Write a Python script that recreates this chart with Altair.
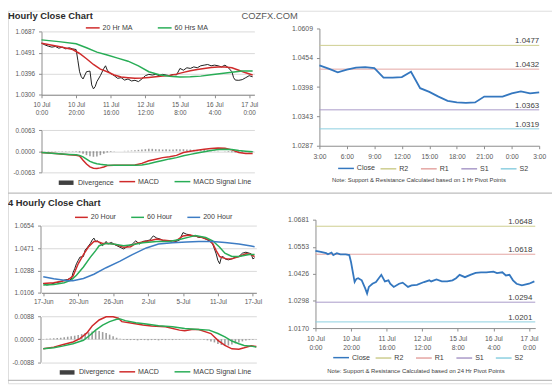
import altair as alt
import pandas as pd

FONT = "Liberation Sans"
W, H = 552, 378

RED = "#cf2a2a"
GREEN = "#28ad56"
BLUE = "#3d7cc4"
BLACK = "#1f1f1f"
CLOSE_BLUE = "#3477bf"
PIVOT_COLORS = ["#cdcd8e", "#e4a5a2", "#a999c8", "#8ccfe0"]

# ---------------- Hourly close chart (top left) ----------------
hr_x_ticks = [0, 20, 40, 60, 80, 100, 120]
hr_x_labels = ["10 Jul|0:00", "10 Jul|20:00", "11 Jul|16:00", "12 Jul|12:00",
               "15 Jul|8:00", "16 Jul|4:00", "17 Jul|0:00"]
hr_y_ticks = [1.0300, 1.0396, 1.0491, 1.0587]
hr_y_labels = ["1.0300", "1.0396", "1.0491", "1.0687"]
hr_close_idx = [0, 2, 4, 6, 8, 10, 12, 14, 16, 18, 20, 21, 22, 23, 24, 26, 28, 29, 30, 31,
                32, 34, 36, 37, 38, 40, 42, 44, 46, 48, 50, 52, 54, 56, 58, 60, 62, 64, 66, 68,
                70, 72, 74, 76, 78, 80, 82, 84, 86, 88, 90, 92, 94, 96, 98, 100, 102, 104, 106, 108,
                110, 111, 112, 114, 116, 118, 120, 122]
hr_close = [1.0535, 1.0527, 1.0521, 1.0517, 1.0520, 1.0512, 1.0517, 1.0509, 1.0514, 1.0509,
            1.0506, 1.0457, 1.0405, 1.0382, 1.0372, 1.0405, 1.0408, 1.0345, 1.0327, 1.0337,
            1.0360, 1.0387, 1.0420, 1.0432, 1.0412, 1.0397, 1.0387, 1.0375, 1.0378, 1.0367,
            1.0372, 1.0363, 1.0366, 1.0360, 1.0372, 1.0387, 1.0393, 1.0390, 1.0393, 1.0387,
            1.0393, 1.0390, 1.0387, 1.0393, 1.0390, 1.0420, 1.0412, 1.0423, 1.0420, 1.0427,
            1.0423, 1.0432, 1.0435, 1.0438, 1.0432, 1.0435, 1.0432, 1.0427, 1.0435, 1.0423,
            1.0405, 1.0378, 1.0367, 1.0366, 1.0369, 1.0378, 1.0387, 1.0382]
hr_ma20_idx = [0, 10, 18, 22, 26, 30, 34, 38, 42, 46, 50, 54, 58, 62, 66, 70, 74, 78, 82, 86,
               90, 94, 98, 102, 106, 110, 114, 118, 122]
hr_ma20 = [1.0535, 1.0520, 1.0506, 1.0488, 1.0464, 1.0438, 1.0417, 1.0405, 1.0390, 1.0381,
           1.0378, 1.0375, 1.0376, 1.0379, 1.0382, 1.0385, 1.0388, 1.0394, 1.0402, 1.0409,
           1.0415, 1.0420, 1.0424, 1.0426, 1.0426, 1.0423, 1.0412, 1.0400, 1.0390]
hr_ma60_idx = [0, 10, 20, 26, 32, 38, 44, 50, 56, 62, 68, 74, 80, 86, 92, 98, 104, 110, 116, 122]
hr_ma60 = [1.0550, 1.0542, 1.0532, 1.0514, 1.0494, 1.0481, 1.0467, 1.0453, 1.0432, 1.0405,
           1.0391, 1.0384, 1.0381, 1.0382, 1.0385, 1.0391, 1.0397, 1.0403, 1.0408, 1.0408]
hr_ma_names = ["20 Hr MA", "60 Hrs MA"]

# ---------------- Hourly MACD ----------------
macd_names = ["MACD", "MACD Signal Line"]
hr_macd_ticks = [-0.0063, 0.0, 0.0063]
hr_macd_labels = ["-0.0063", "0.0000", "0.0063"]
hr_macd_idx = [0, 8, 16, 20, 22, 24, 26, 28, 30, 32, 34, 36, 38, 42, 46, 50, 54, 58, 62, 66,
               70, 74, 78, 82, 86, 90, 94, 98, 102, 106, 110, 114, 118, 122]
hr_macd = [-0.00039, -0.00068, -0.00107, -0.00126, -0.00145, -0.00271, -0.00388, -0.00475, -0.00514, -0.00523,
           -0.00504, -0.00475, -0.00436, -0.00426, -0.00426, -0.00426, -0.00417, -0.00368, -0.00291, -0.00242,
           -0.00194, -0.00165, -0.00126, -0.00039, 0.0, 0.00029, 0.00058, 0.00078, 0.00097, 0.00087,
           0.00039, -0.00039, -0.00068, -0.00068]
hr_signal = [-0.00039, -0.00068, -0.00097, -0.00107, -0.00126, -0.00174, -0.00242, -0.00310, -0.00349, -0.00378,
             -0.00397, -0.00407, -0.00417, -0.00426, -0.00426, -0.00426, -0.00426, -0.00417, -0.00378, -0.00329,
             -0.00281, -0.00233, -0.00194, -0.00136, -0.00097, -0.00058, -0.00019, 0.00019, 0.00048, 0.00058,
             0.00048, 0.00019, 0.0, -0.00019]
hr_div_idx = list(range(0, 123, 2))
hr_div = [-0.0001, -0.0001, -0.0001, -0.0001, -0.0001, -0.0001, -0.0001, -0.0001, -0.0001, -0.0001,
          -0.0002, -0.0004, -0.0008, -0.0012, -0.0015, -0.0017, -0.0016, -0.0012, -0.0008, -0.0004,
          -0.0002, -0.0001, 0.0, 0.0, 0.0001, 0.0001, 0.0002, 0.0003, 0.0004, 0.0005,
          0.0006, 0.0007, 0.0007, 0.0006, 0.0006, 0.0005, 0.0006, 0.0005, 0.0005, 0.0006,
          0.0006, 0.0006, 0.0005, 0.0005, 0.0004, 0.0004, 0.0004, 0.0004, 0.0003, 0.0002,
          0.0002, 0.0001, 0.0, -0.0001, -0.0002, -0.0003, -0.0004, -0.0004, -0.0004, -0.0003,
          -0.0003, -0.0002]

# ---------------- Hourly pivots (top right) ----------------
pivot_names = ["R2", "R1", "S1", "S2"]
pv1_x_ticks = [0, 3, 6, 9, 12, 15, 18, 21, 24]
pv1_x_labels = ["3:00", "6:00", "9:00", "12:00", "15:00", "18:00", "21:00", "0:00", "3:00"]
pv1_y_ticks = [1.0287, 1.03425, 1.0398, 1.04535, 1.0509]
pv1_y_labels = ["1.0287", "1.0343", "1.0398", "1.0454", "1.0609"]
pv1_hours = list(range(0, 25))
pv1_close = [1.0439, 1.0433, 1.0426, 1.0431, 1.0435, 1.0436, 1.0434, 1.0416, 1.0416, 1.0417,
             1.0427, 1.0396, 1.0389, 1.0380, 1.0372, 1.0369, 1.0368, 1.0369, 1.0380, 1.0380,
             1.0380, 1.0386, 1.0390, 1.0386, 1.0388]
pv1_levels = [1.0477, 1.0432, 1.0355, 1.0319]
pv1_level_labels = ["1.0477", "1.0432", "1.0363", "1.0319"]
pv1_note = "Note: Support & Resistance Calculated based on 1 Hr Pivot Points"

# ---------------- 4 Hourly close chart (bottom left) ----------------
fh_x_ticks = [0, 20, 40, 60, 80, 100, 120]
fh_x_labels = ["17-Jun", "20-Jun", "26-Jun", "2-Jul", "5-Jul", "11-Jul", "17-Jul"]
fh_y_ticks = [1.0106, 1.0288, 1.0471, 1.0654]
fh_y_labels = ["1.0106", "1.0288", "1.0471", "1.0654"]
fh_close_idx = [0, 2, 4, 7, 10, 12, 14, 15, 16, 17, 18, 19, 20, 21, 23, 24, 25, 27, 28, 29,
                30, 31, 32, 34, 36, 37, 39, 41, 44, 46, 48, 49, 51, 53, 55, 57, 59, 61, 63, 65,
                67, 69, 72, 74, 76, 78, 80, 82, 84, 85, 87, 89, 91, 93, 95, 97, 98, 99, 100, 101,
                102, 103, 104, 106, 108, 110, 112, 114, 116, 118, 119, 120, 121]
fh_close = [1.0183, 1.0170, 1.0175, 1.0189, 1.0197, 1.0210, 1.0215, 1.0223, 1.0210, 1.0269,
            1.0303, 1.0343, 1.0370, 1.0397, 1.0402, 1.0456, 1.0471, 1.0509, 1.0536, 1.0552,
            1.0525, 1.0530, 1.0517, 1.0490, 1.0525, 1.0504, 1.0517, 1.0498, 1.0477, 1.0464,
            1.0482, 1.0490, 1.0504, 1.0530, 1.0504, 1.0525, 1.0530, 1.0536, 1.0570, 1.0552,
            1.0544, 1.0530, 1.0525, 1.0517, 1.0525, 1.0536, 1.0597, 1.0584, 1.0578, 1.0570,
            1.0570, 1.0557, 1.0557, 1.0544, 1.0530, 1.0504, 1.0464, 1.0424, 1.0370, 1.0343,
            1.0397, 1.0402, 1.0383, 1.0375, 1.0383, 1.0397, 1.0402, 1.0429, 1.0437, 1.0429,
            1.0424, 1.0383, 1.0392]
fh_ma20_idx = [0, 6, 14, 17, 20, 23, 26, 29, 31, 34, 38, 42, 46, 50, 53, 57, 61, 65, 68, 72,
               76, 80, 84, 87, 91, 95, 97, 99, 101, 103, 105, 108, 112, 116, 119, 121]
fh_ma20 = [1.0183, 1.0189, 1.0210, 1.0242, 1.0343, 1.0418, 1.0482, 1.0525, 1.0525, 1.0509,
           1.0509, 1.0498, 1.0477, 1.0482, 1.0509, 1.0520, 1.0530, 1.0544, 1.0536, 1.0530,
           1.0530, 1.0570, 1.0578, 1.0568, 1.0557, 1.0536, 1.0509, 1.0450, 1.0402, 1.0391,
           1.0383, 1.0383, 1.0402, 1.0424, 1.0418, 1.0402]
fh_ma60_idx = [0, 6, 12, 16, 19, 23, 27, 30, 32, 36, 40, 46, 51, 57, 65, 72, 78, 84, 87, 93,
               97, 101, 104, 108, 112, 118, 121]
fh_ma60 = [1.0170, 1.0175, 1.0189, 1.0210, 1.0250, 1.0317, 1.0397, 1.0450, 1.0490, 1.0509,
           1.0504, 1.0490, 1.0498, 1.0514, 1.0525, 1.0525, 1.0541, 1.0562, 1.0573, 1.0557,
           1.0530, 1.0477, 1.0429, 1.0402, 1.0402, 1.0418, 1.0418]
fh_ma200_idx = [0, 6, 14, 17, 23, 29, 36, 44, 51, 59, 66, 74, 82, 89, 97, 104, 112, 119, 121]
fh_ma200 = [1.0237, 1.0221, 1.0205, 1.0205, 1.0223, 1.0258, 1.0311, 1.0365, 1.0418, 1.0472,
            1.0504, 1.0514, 1.0520, 1.0525, 1.0525, 1.0517, 1.0504, 1.0488, 1.0482]
fh_ma_names = ["20 Hour", "60 Hour", "200 Hour"]

# ---------------- 4 Hourly MACD ----------------
fh_macd_ticks = [-0.0088, 0.0, 0.0088]
fh_macd_labels = ["-0.0088", "0.0000", "0.0088"]
fh_macd_idx = [0, 6, 11, 17, 21, 25, 28, 32, 36, 40, 43, 45, 51, 57, 62, 70, 78, 81, 85, 89,
               93, 96, 100, 104, 108, 112, 115, 119, 122]
fh_macd = [-0.00368, -0.00302, -0.00210, -0.00105, 0.00026, 0.00249, 0.00512, 0.00748, 0.00870, 0.00870,
           0.00814, 0.00683, 0.00617, 0.00551, 0.00512, 0.00486, 0.00355, 0.00328, 0.00381, 0.00381,
           0.00289, 0.00223, -0.00039, -0.00236, -0.00368, -0.00381, -0.00328, -0.00249, -0.00276]
fh_sig_idx = [0, 6, 11, 17, 23, 26, 30, 34, 38, 42, 44, 47, 53, 59, 66, 74, 81, 89, 95, 100,
              104, 108, 112, 115, 119, 122]
fh_signal = [-0.00368, -0.00328, -0.00263, -0.00171, -0.00039, 0.00118, 0.00355, 0.00551, 0.00683, 0.00775,
             0.00788, 0.00722, 0.00643, 0.00591, 0.00525, 0.00486, 0.00420, 0.00381, 0.00355, 0.00223,
             0.00092, -0.00066, -0.00171, -0.00236, -0.00263, -0.00302]
fh_div_idx = list(range(0, 123, 2))
fh_div = [0.0001, 0.0002, 0.0003, 0.0004, 0.0005, 0.0006, 0.0008, 0.0010, 0.0012, 0.0014,
          0.0017, 0.0020, 0.0024, 0.0027, 0.0030, 0.0033, 0.0032, 0.0028, 0.0024, 0.0018,
          0.0012, 0.0006, 0.0002, -0.0002, -0.0003, -0.0003, -0.0003, -0.0004, -0.0003, -0.0003,
          -0.0004, -0.0003, -0.0003, -0.0004, -0.0003, -0.0003, -0.0002, -0.0003, -0.0002, -0.0002,
          -0.0001, 0.0001, 0.0001, 0.0001, 0.0, -0.0001, -0.0002, -0.0004, -0.0008, -0.0012,
          -0.0018, -0.0022, -0.0025, -0.0024, -0.0020, -0.0016, -0.0012, -0.0008, -0.0005, -0.0003,
          -0.0002, -0.0001]

# ---------------- 24 Hr pivots (bottom right) ----------------
pv2_y_ticks = [1.0170, 1.0298, 1.0426, 1.0553, 1.0681]
pv2_y_labels = ["1.0170", "1.0298", "1.0426", "1.0553", "1.0681"]
pv2_idx = [0, 3, 6, 7, 9, 10, 12, 14, 17, 19, 20, 21, 22, 23, 24, 26, 28, 29, 30, 32,
           34, 37, 39, 41, 42, 44, 47, 49, 52, 54, 57, 61, 64, 65, 68, 71, 74, 77, 79, 81,
           84, 87, 90, 93, 96, 100, 102, 105, 107, 109, 111, 113, 116, 120, 123]
pv2_close = [1.0534, 1.0529, 1.0523, 1.0518, 1.0526, 1.0514, 1.0523, 1.0517, 1.0517, 1.0514,
             1.0480, 1.0433, 1.0387, 1.0402, 1.0405, 1.0395, 1.0356, 1.0333, 1.0364, 1.0379,
             1.0387, 1.0421, 1.0390, 1.0395, 1.0379, 1.0364, 1.0379, 1.0384, 1.0364, 1.0371,
             1.0374, 1.0387, 1.0395, 1.0390, 1.0399, 1.0390, 1.0390, 1.0395, 1.0405, 1.0421,
             1.0410, 1.0421, 1.0430, 1.0433, 1.0433, 1.0436, 1.0429, 1.0433, 1.0418, 1.0421,
             1.0395, 1.0379, 1.0371, 1.0379, 1.0390]
pv2_levels = [1.0650, 1.0518, 1.0292, 1.0199]
pv2_level_labels = ["1.0648", "1.0618", "1.0294", "1.0201"]
pv2_note = "Note: Support & Resistance Calculated based on 24 Hr Pivot Points"


# ---------------- helpers ----------------
def js_list(items):
    return "[" + ",".join(items) + "]"


def label_expr(ticks, labels, multiline=False):
    e = js_list(["'" + l + "'" for l in labels]) + "[indexof(" + js_list([repr(t) for t in ticks]) + ", datum.value)]"
    return "split(" + e + ", '|')" if multiline else e


def sc(domain, rng):
    return alt.Scale(domain=domain, range=rng, nice=False, zero=False)


def yax(ticks, labels, xpos, grid, size=6.5, pad=4):
    return alt.Axis(orient="left", offset=-xpos, values=ticks, labelExpr=label_expr(ticks, labels),
                    grid=grid, gridColor="#d9d9d9", gridWidth=1, domainColor="#8c8c8c", tickColor="#8c8c8c",
                    tickSize=3, labelPadding=pad, labelFontSize=size, labelColor="#595959",
                    labelFont=FONT, title=None, labelOverlap=False, zindex=0)


def xax(ticks, labels, ypos, size=6.5, pad=4, multiline=False, lh=8.3):
    return alt.Axis(orient="bottom", offset=ypos - H, values=ticks,
                    labelExpr=label_expr(ticks, labels, multiline), grid=False,
                    domainColor="#8c8c8c", tickColor="#8c8c8c", tickSize=3, labelPadding=pad,
                    labelFontSize=size, labelColor="#595959", labelFont=FONT, title=None,
                    labelOverlap=False, labelFlush=False, labelAngle=0, labelLineHeight=lh, zindex=0)


def leg(x, y, sym=16, colpad=10, stroke_w=None):
    kw = dict(title=None, orient="none", legendX=x, legendY=y, direction="horizontal",
              symbolType="stroke", symbolSize=sym * sym, columnPadding=colpad, labelOffset=2,
              labelFont=FONT, labelFontSize=7.2, labelColor="#404040", padding=0, symbolOpacity=1)
    if stroke_w:
        kw["symbolStrokeWidth"] = stroke_w
    return alt.Legend(**kw)


def xy(idx, vals, name=None):
    d = pd.DataFrame({"i": idx, "v": vals})
    if name is not None:
        d["s"] = name
    return d


def long_df(series, names):
    return pd.concat([xy(i, v, n) for (i, v), n in zip(series, names)], ignore_index=True)


def text_layer(txt, x, y, size, color, weight="normal", align="left", baseline="middle"):
    return alt.Chart(alt.Data(values=[{}])).mark_text(
        align=align, baseline=baseline, fontSize=size, font=FONT, fontWeight=weight, color=color
    ).encode(x=alt.value(x), y=alt.value(y), text=alt.value(txt))


def sep_layer(y):
    return alt.Chart(alt.Data(values=[{}])).mark_rule(color="#bdbdbd", strokeWidth=1.3).encode(
        x=alt.value(0), x2=alt.value(W), y=alt.value(y))


layers = []

# ---- panel 1: hourly close ----
X1 = sc([0, 123], [34, 250])
Y1 = sc([1.0300, 1.0587], [85.3, 21.3])
layers.append(alt.Chart(xy(hr_close_idx, hr_close)).mark_line(color=BLACK, strokeWidth=1).encode(
    x=alt.X("i:Q", scale=X1, axis=xax(hr_x_ticks, hr_x_labels, 85.3, multiline=True, pad=4)),
    y=alt.Y("v:Q", scale=Y1, axis=yax(hr_y_ticks, hr_y_labels, 34, grid=True))))
layers.append(alt.Chart(long_df([(hr_ma20_idx, hr_ma20), (hr_ma60_idx, hr_ma60)], hr_ma_names)).mark_line(strokeWidth=1.5).encode(
    x=alt.X("i:Q", scale=X1, axis=None),
    y=alt.Y("v:Q", scale=Y1, axis=None),
    color=alt.Color("s:N", scale=alt.Scale(domain=hr_ma_names, range=[RED, GREEN]), legend=leg(78, 9, 14, 22))))

# ---- panel 2: hourly MACD ----
Y2 = sc([-0.0063, 0.0063], [163.7, 121.3])
layers.append(alt.Chart(xy(hr_div_idx, hr_div, "Divergence")).mark_rule(opacity=0.5).encode(
    x=alt.X("i:Q", scale=X1, axis=None),
    y=alt.Y("v:Q", scale=Y2, axis=yax(hr_macd_ticks, hr_macd_labels, 34, grid=True)),
    y2=alt.datum(0),
    size=alt.value(1.6),
    color=alt.Color("s:N", scale=alt.Scale(domain=["Divergence"], range=["#404040"]),
                    legend=leg(49, 164.5, 15, 10, stroke_w=4.5))))
layers.append(alt.Chart(long_df([(hr_macd_idx, hr_macd), (hr_macd_idx, hr_signal)], macd_names)).mark_line(strokeWidth=1.5).encode(
    x=alt.X("i:Q", scale=X1, axis=None),
    y=alt.Y("v:Q", scale=Y2, axis=None),
    color=alt.Color("s:N", scale=alt.Scale(domain=macd_names, range=[RED, GREEN]), legend=leg(112, 164, 16, 12))))

# ---- panel 3: hourly pivots ----
X3 = sc([0, 24], [316, 539])
Y3 = sc([1.0287, 1.0509], [137, 18])
layers.append(alt.Chart(pd.DataFrame({"level": pv1_levels, "s": pivot_names})).mark_rule(strokeWidth=1).encode(
    x=alt.XDatum(0, scale=X3, axis=None), x2=alt.datum(24),
    y=alt.Y("level:Q", scale=Y3, axis=None),
    color=alt.Color("s:N", scale=alt.Scale(domain=pivot_names, range=PIVOT_COLORS), legend=leg(377, 151, 16, 9))))
layers.append(alt.Chart(pd.DataFrame({"level": pv1_levels, "label": pv1_level_labels})).mark_text(
    align="right", baseline="alphabetic", dy=-2, fontSize=8, font=FONT, color="#404040").encode(
    x=alt.XDatum(24, scale=X3, axis=None), y=alt.Y("level:Q", scale=Y3, axis=None), text="label:N"))
layers.append(alt.Chart(xy(pv1_hours, pv1_close, "Close")).mark_line(strokeWidth=1.8).encode(
    x=alt.X("i:Q", scale=X3, axis=xax(pv1_x_ticks, pv1_x_labels, 137, size=6.8, pad=5)),
    y=alt.Y("v:Q", scale=Y3, axis=yax(pv1_y_ticks, pv1_y_labels, 316, grid=False, size=7)),
    color=alt.Color("s:N", scale=alt.Scale(domain=["Close"], range=[CLOSE_BLUE]), legend=leg(334, 151, 16, 9))))

# ---- panel 4: 4 hourly close ----
X4 = sc([-1, 122], [34, 252])
Y4 = sc([1.0106, 1.0654], [286.3, 218])
layers.append(alt.Chart(xy(fh_close_idx, fh_close)).mark_line(color=BLACK, strokeWidth=1).encode(
    x=alt.X("i:Q", scale=X4, axis=xax(fh_x_ticks, fh_x_labels, 286.3, pad=3)),
    y=alt.Y("v:Q", scale=Y4, axis=yax(fh_y_ticks, fh_y_labels, 33, grid=True))))
layers.append(alt.Chart(long_df([(fh_ma20_idx, fh_ma20), (fh_ma60_idx, fh_ma60), (fh_ma200_idx, fh_ma200)], fh_ma_names)).mark_line(strokeWidth=1.5).encode(
    x=alt.X("i:Q", scale=X4, axis=None),
    y=alt.Y("v:Q", scale=Y4, axis=None),
    color=alt.Color("s:N", scale=alt.Scale(domain=fh_ma_names, range=[RED, GREEN, BLUE]), legend=leg(67, 202, 13, 12))))

# ---- panel 5: 4 hourly MACD ----
Y5 = sc([-0.0088, 0.0088], [356.5, 310.3])
layers.append(alt.Chart(xy(fh_div_idx, fh_div, "Divergence")).mark_rule(opacity=0.5).encode(
    x=alt.X("i:Q", scale=X4, axis=None),
    y=alt.Y("v:Q", scale=Y5, axis=yax(fh_macd_ticks, fh_macd_labels, 33, grid=True)),
    y2=alt.datum(0),
    size=alt.value(1.6),
    color=alt.Color("s:N", scale=alt.Scale(domain=["Divergence"], range=["#404040"]),
                    legend=leg(50, 357, 15, 10, stroke_w=4.5))))
layers.append(alt.Chart(long_df([(fh_macd_idx, fh_macd), (fh_sig_idx, fh_signal)], macd_names)).mark_line(strokeWidth=1.5).encode(
    x=alt.X("i:Q", scale=X4, axis=None),
    y=alt.Y("v:Q", scale=Y5, axis=None),
    color=alt.Color("s:N", scale=alt.Scale(domain=macd_names, range=[RED, GREEN]), legend=leg(112, 357, 16, 12))))

# ---- panel 6: 24 hr pivots ----
X6 = sc([0, 123.5], [312, 535])
Y6 = sc([1.0170, 1.0681], [322, 212])
layers.append(alt.Chart(pd.DataFrame({"level": pv2_levels, "s": pivot_names})).mark_rule(strokeWidth=1).encode(
    x=alt.XDatum(0, scale=X6, axis=None), x2=alt.datum(123.5),
    y=alt.Y("level:Q", scale=Y6, axis=None),
    color=alt.Color("s:N", scale=alt.Scale(domain=pivot_names, range=PIVOT_COLORS), legend=leg(372, 343, 16, 9))))
layers.append(alt.Chart(pd.DataFrame({"level": pv2_levels, "label": pv2_level_labels})).mark_text(
    align="right", baseline="alphabetic", dy=-2, dx=-3, fontSize=8, font=FONT, color="#404040").encode(
    x=alt.XDatum(123.5, scale=X6, axis=None), y=alt.Y("level:Q", scale=Y6, axis=None), text="label:N"))
layers.append(alt.Chart(xy(pv2_idx, pv2_close, "Close")).mark_line(strokeWidth=1.8).encode(
    x=alt.X("i:Q", scale=X6, axis=xax(hr_x_ticks, hr_x_labels, 322, size=6.8, pad=5, multiline=True, lh=9)),
    y=alt.Y("v:Q", scale=Y6, axis=yax(pv2_y_ticks, pv2_y_labels, 312, grid=False, size=7)),
    color=alt.Color("s:N", scale=alt.Scale(domain=["Close"], range=[CLOSE_BLUE]), legend=leg(329, 343, 16, 9))))

# ---- headings, notes, separators ----
layers.append(text_layer("Hourly Close Chart", 0, 0, 9.5, "#2b2b2b", weight="bold", baseline="top"))
layers.append(text_layer("COZFX.COM", 237, 0, 9.5, "#595959", baseline="top"))
layers.append(text_layer("4 Hourly Close Chart", 0, 195, 9.5, "#2b2b2b", weight="bold"))
layers.append(text_layer(pv1_note, 417, 172, 6, "#404040", align="center"))
layers.append(text_layer(pv2_note, 414, 365.3, 6, "#404040", align="center"))
layers.append(sep_layer(185))
layers.append(sep_layer(375))

chart = alt.layer(*layers).resolve_scale(
    x="independent", y="independent", color="independent"
).properties(
    width=W, height=H, autosize=alt.AutoSizeParams(type="none"), padding=0
).configure_view(strokeWidth=0).configure(font=FONT)

chart.save("out.html", embed_options={"renderer": "svg", "actions": False})
